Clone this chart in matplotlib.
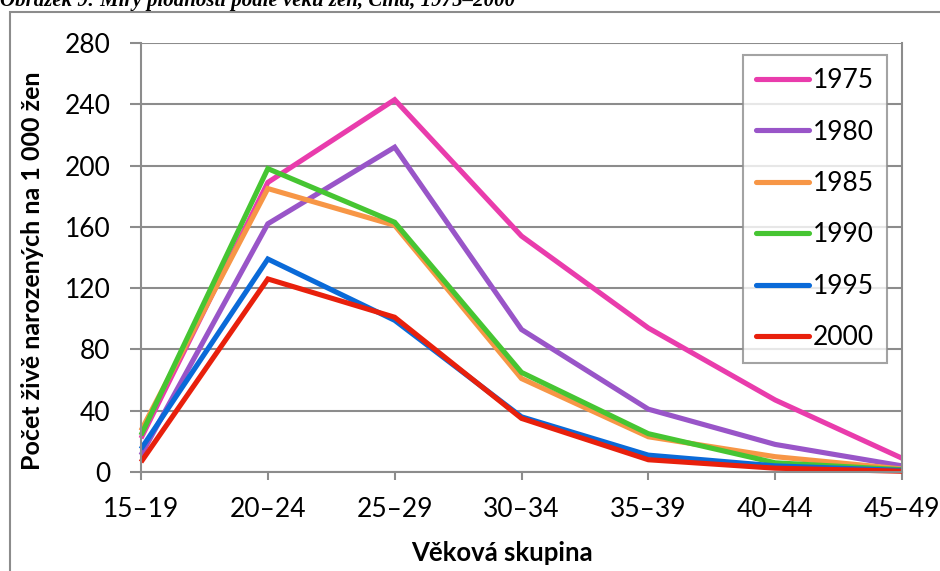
import matplotlib
matplotlib.use('Agg')
import matplotlib.pyplot as plt
from matplotlib.patches import Rectangle

# age groups on the x axis
age_groups = ['15–19', '20–24', '25–29', '30–34', '35–39', '40–44', '45–49']
years = ['1975', '1980', '1985', '1990', '1995', '2000']

# births per 1000 women
rates_1975 = [22, 189, 243, 154, 94, 47, 9]
rates_1980 = [11, 162, 212, 93, 41, 18, 4]
rates_1985 = [27, 185, 161, 61, 23, 10, 2]
rates_1990 = [24, 198, 163, 65, 25, 6, 1.5]
rates_1995 = [15, 139, 99, 36, 11, 4, 1]
rates_2000 = [6.5, 126, 101, 35, 8, 2.5, 0.5]
all_rates = [rates_1975, rates_1980, rates_1985, rates_1990, rates_1995, rates_2000]
y_ticks = [0, 40, 80, 120, 160, 200, 240, 280]

colors = ['#E93CAC', '#9955C8', '#F79646', '#46C532', '#0A6AD8', '#E8200C']
grey = '#8C8C8C'

plt.rcParams['font.family'] = ['Lato', 'DejaVu Sans']

W, H = 940, 571
fig = plt.figure(figsize=(W / 100, H / 100), dpi=100)

# outer frame of the chart (runs off the right and bottom edge)
fig.patches.append(Rectangle((10 / W, -0.1), 1.2, (H - 12) / H + 0.1,
                             transform=fig.transFigure, fill=False,
                             edgecolor=grey, linewidth=1.5))

# caption, cut off at the top like in the source
fig.text(0, 1 - 6 / H, 'Obrázek 9: Míry plodnosti podle věku žen, Čína, 1975–2000',
         family='Liberation Serif', fontweight='bold', fontstyle='italic',
         fontsize=15, va='baseline', ha='left')

ax = fig.add_axes([141 / W, (H - 472) / H, 761 / W, 429 / H])
x = list(range(len(age_groups)))
for year, rates, col in zip(years, all_rates, colors):
    ax.plot(x, rates, color=col, linewidth=3.7, label=year,
            solid_joinstyle='miter', solid_capstyle='butt', clip_on=False)

ax.set_xlim(0, len(age_groups) - 1)
ax.set_ylim(0, 280)
ax.set_yticks(y_ticks)
ax.set_xticks(x)
ax.set_xticklabels(age_groups)
ax.grid(axis='y', color=grey, linewidth=1.5)
ax.set_axisbelow(True)
for s in ['left', 'right', 'bottom']:
    ax.spines[s].set_color(grey)
    ax.spines[s].set_linewidth(1.5)
ax.spines['top'].set_visible(False)
ax.tick_params(axis='y', length=8, width=1.5, color=grey, pad=14, labelsize=19)
ax.tick_params(axis='x', length=6, width=1.5, color=grey, pad=12, labelsize=19)

fig.text(33 / W, 1 - 271 / H, 'Počet živě narozených na 1 000 žen', rotation=90,
         fontweight='bold', fontsize=18, ha='center', va='center')
fig.text(502 / W, 1 - 553 / H, 'Věková skupina', fontweight='bold', fontsize=18.5,
         ha='center', va='center')

leg = ax.legend(loc='upper right', bbox_to_anchor=(887 / W, 1 - 55 / H),
                bbox_transform=fig.transFigure, fontsize=19, frameon=True,
                fancybox=False, edgecolor=grey, handlelength=2.0,
                handletextpad=0.15, labelspacing=1.0, borderpad=0.5,
                borderaxespad=0)
leg.get_frame().set_linewidth(1.5)
for h in leg.get_lines():
    h.set_solid_capstyle('round')

fig.savefig('out.png', dpi=100)
